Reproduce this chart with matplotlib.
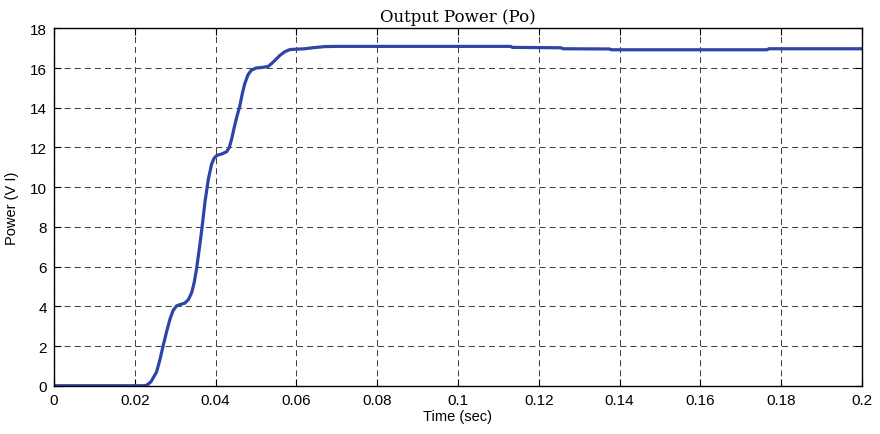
import matplotlib
matplotlib.use("Agg")
import matplotlib.pyplot as plt

# Output power trace (time in seconds, power in V*I)
time_s = [0.0, 0.0220, 0.0229, 0.0240, 0.0254, 0.0262, 0.0270, 0.0279, 0.0287,
          0.0295, 0.0304, 0.0314, 0.0324, 0.0333, 0.0341, 0.0347, 0.0353, 0.0360,
          0.0366, 0.0374, 0.0382, 0.0390, 0.0396, 0.0403, 0.0415, 0.0427, 0.0434,
          0.0440, 0.0446, 0.0452, 0.0460, 0.0466, 0.0472, 0.0480, 0.0488, 0.0500,
          0.0515, 0.0530, 0.0540, 0.0550, 0.0560, 0.0572, 0.0584, 0.0600, 0.0620,
          0.0640, 0.0670, 0.0700, 0.1130, 0.1135, 0.1255, 0.1260, 0.1375, 0.1380,
          0.1765, 0.1770, 0.2000]
power = [0.0, 0.0, 0.02, 0.2, 0.7, 1.3, 2.0, 2.75, 3.35,
         3.8, 4.03, 4.1, 4.16, 4.35, 4.7, 5.2, 5.9, 6.95,
         7.9, 9.3, 10.4, 11.15, 11.45, 11.6, 11.67, 11.78, 12.0,
         12.45, 13.0, 13.5, 14.1, 14.7, 15.2, 15.65, 15.88, 16.0,
         16.03, 16.08, 16.25, 16.45, 16.65, 16.83, 16.93, 16.95, 16.97,
         17.02, 17.08, 17.09, 17.09, 17.04, 17.02, 16.97, 16.96, 16.92,
         16.92, 16.97, 16.97]

x_ticks = [0, 0.02, 0.04, 0.06, 0.08, 0.1, 0.12, 0.14, 0.16, 0.18, 0.2]
x_labels = ["0", "0.02", "0.04", "0.06", "0.08", "0.1", "0.12", "0.14", "0.16", "0.18", "0.2"]
y_ticks = [0, 2, 4, 6, 8, 10, 12, 14, 16, 18]

plt.rcParams["font.family"] = ["Liberation Sans", "DejaVu Sans"]

fig = plt.figure(figsize=(8.8, 4.35), dpi=100)
ax = fig.add_axes([0.0614, 0.111, 0.918, 0.8216])

ax.plot(time_s, power, color="#2f45a6", linewidth=2.3, solid_joinstyle="round")

ax.set_xlim(0, 0.2)
ax.set_ylim(0, 18)
ax.set_xticks(x_ticks)
ax.set_xticklabels(x_labels)
ax.set_yticks(y_ticks)
ax.tick_params(direction="in", length=5, width=0.8, labelsize=11, top=True, right=True, pad=5)

ax.grid(True, color="#444444", linestyle=(0, (5.8, 3.9)), linewidth=0.75)
for s in ax.spines.values():
    s.set_linewidth(1.0)

ax.set_title("Output Power (Po)", family="DejaVu Serif", fontsize=12, pad=5)
ax.set_xlabel("Time (sec)", fontsize=10.5, labelpad=2)
ax.set_ylabel("Power (V I)", fontsize=10.5, labelpad=8)

fig.savefig("out.png", dpi=100)
